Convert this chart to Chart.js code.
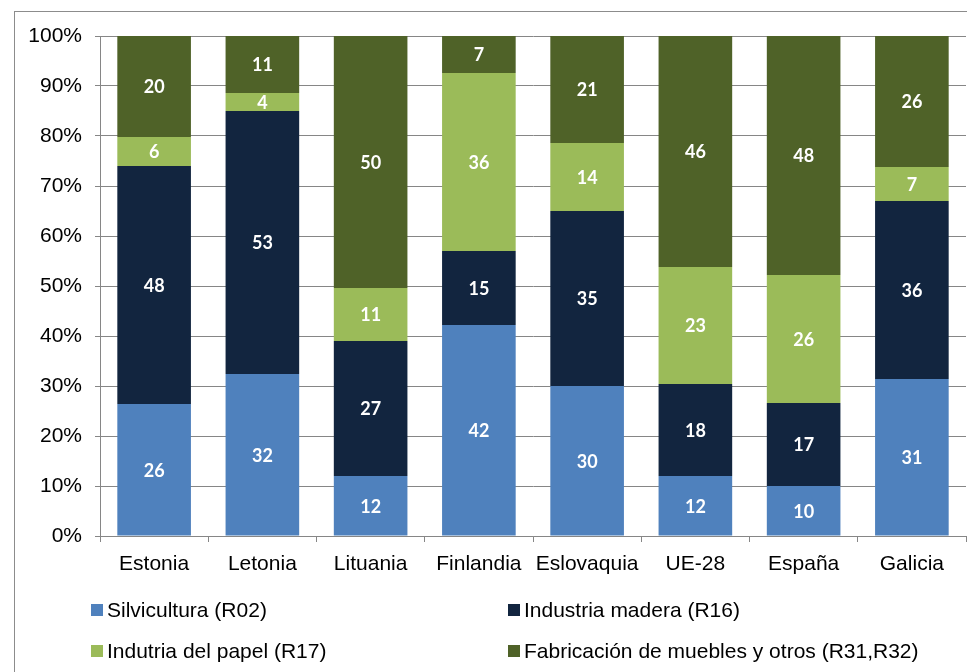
<!DOCTYPE html>
<html>
<head>
<meta charset="utf-8">
<script src="https://cdn.jsdelivr.net/npm/chart.js@4/dist/chart.umd.min.js"></script>
<style>
  html, body { margin: 0; padding: 0; background: #fff; }
  #wrap { position: relative; width: 967px; height: 672px; overflow: hidden; }
  #frame { position: absolute; left: 14px; top: 11px; width: 1000px; height: 700px; border: 1px solid #8c8c8c; }
  canvas { position: absolute; left: 0; top: 0; }
  .lg { position: absolute; font-family: "Liberation Sans", Arial, sans-serif; font-size: 21px; color: #000; white-space: nowrap; }
  .lg i { display: inline-block; width: 12px; height: 12px; margin-right: 4px; vertical-align: 1px; }
</style>
</head>
<body>
<div id="wrap">
  <div id="frame"></div>
  <canvas id="c" width="967" height="672"></canvas>
  <div id="legend"></div>
</div>
<script>
const categories = ["Estonia", "Letonia", "Lituania", "Finlandia", "Eslovaquia", "UE-28", "España", "Galicia"]
const seriesNames = ["Silvicultura (R02)", "Industria madera (R16)", "Indutria del papel (R17)", "Fabricación de muebles y otros (R31,R32)"]
const silvicultura = [26.4, 32.4, 12.0, 42.2, 30.0, 12.0, 10.0, 31.4]
const madera = [47.6, 52.6, 27.0, 14.8, 35.0, 18.4, 16.6, 35.6]
const papel = [5.8, 3.6, 10.6, 35.6, 13.6, 23.4, 25.6, 6.8]
const muebles = [20.2, 11.4, 50.4, 7.4, 21.4, 46.2, 47.8, 26.2]
const yTicks = [0, 10, 20, 30, 40, 50, 60, 70, 80, 90, 100]
const colors = ["#4f81bd", "#12253f", "#9bbb59", "#4f6228"]

const gridColor = "#868686"

const barLabels = {
  id: "barLabels",
  afterDatasetsDraw(chart) {
    const ctx = chart.ctx
    ctx.save()
    ctx.fillStyle = "#fff"
    ctx.font = "bold 18px Lato, 'Open Sans', sans-serif"
    ctx.textAlign = "center"
    ctx.textBaseline = "middle"
    chart.data.datasets.forEach((ds, i) => {
      chart.getDatasetMeta(i).data.forEach((el, j) => {
        ctx.fillText(Math.round(ds.data[j]), el.x, (el.y + el.base) / 2 + 1)
      })
    })
    ctx.restore()
  }
}

new Chart(document.getElementById("c"), {
  type: "bar",
  data: {
    labels: categories,
    datasets: [silvicultura, madera, papel, muebles].map((d, i) => ({
      label: seriesNames[i],
      data: d,
      backgroundColor: colors[i],
      borderWidth: 0,
      categoryPercentage: 1,
      barPercentage: 0.68,
    }))
  },
  options: {
    responsive: false,
    animation: false,
    layout: { padding: { top: 36, right: 1, left: 0, bottom: 0 } },
    plugins: {
      legend: { display: false },
      tooltip: { enabled: false },
    },
    scales: {
      x: {
        stacked: true,
        afterFit: (s) => { s.height = 136 },
        grid: { offset: true, drawOnChartArea: false, color: gridColor, tickLength: 6 },
        border: { color: gridColor, width: 1 },
        ticks: {
          color: "#000",
          font: { family: "'Liberation Sans', Arial, sans-serif", size: 21 },
          padding: 10,
          maxRotation: 0,
        },
      },
      y: {
        stacked: true,
        min: 0,
        max: 100,
        afterFit: (s) => { s.width = 100 },
        afterBuildTicks: (s) => { s.ticks = yTicks.map(v => ({ value: v })) },
        grid: { color: gridColor, tickLength: 5 },
        border: { color: gridColor, width: 1 },
        ticks: {
          color: "#000",
          font: { family: "'Liberation Sans', Arial, sans-serif", size: 21 },
          padding: 13,
          callback: (v) => v + "%",
        },
      }
    }
  },
  plugins: [barLabels]
})

const legendPos = [[91, 598], [508, 598], [91, 639], [508, 639]]
document.getElementById("legend").innerHTML = seriesNames.map((n, i) =>
  `<div class="lg" style="left:${legendPos[i][0]}px;top:${legendPos[i][1]}px"><i style="background:${colors[i]}"></i>${n}</div>`
).join("")
</script>
</body>
</html>
